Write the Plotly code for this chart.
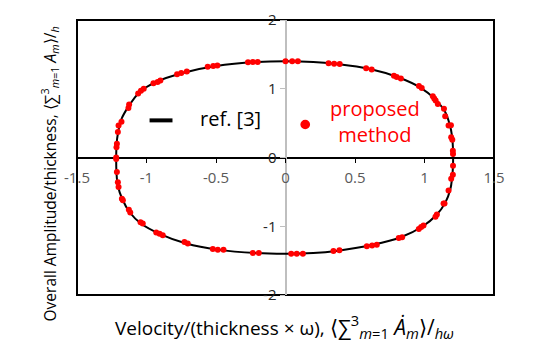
import plotly.graph_objects as go

# reference curve (ref. [3]), clockwise from the top
curve_x = [0, 0.20, 0.365, 0.60, 0.82, 0.976, 1.07, 1.144, 1.18, 1.199, 1.205, 1.206,
           1.205, 1.199, 1.185, 1.149, 1.084, 0.988, 0.83, 0.628, 0.365, 0.20, 0,
           -0.21, -0.487, -0.714, -0.906, -1.04, -1.12, -1.175, -1.206, -1.216, -1.218,
           -1.215, -1.206, -1.18, -1.13, -1.05, -0.93, -0.74, -0.50, -0.20, 0]
curve_y = [1.40, 1.39, 1.36, 1.29, 1.16, 1.01, 0.86, 0.68, 0.49, 0.30, 0.12, 0,
           -0.12, -0.29, -0.47, -0.66, -0.84, -1.00, -1.16, -1.27, -1.36, -1.39, -1.40,
           -1.39, -1.34, -1.25, -1.11, -0.96, -0.80, -0.60, -0.41, -0.22, 0,
           0.20, 0.345, 0.56, 0.74, 0.95, 1.10, 1.23, 1.33, 1.39, 1.40]

# proposed method points
pts_x = [0, 0.048, 0.089, 0.31, 0.35, 0.39, 0.58, 0.62, 0.78, 0.80, 0.83, 0.96, 0.98,
         1.06, 1.07, 1.08, 1.096, 1.14, 1.149, 1.173, 1.19, 1.192, 1.20, 1.204, 1.205,
         1.205, 1.204, 1.192, 1.173, 1.144,
         1.137, 1.089, 1.079, 0.993, 0.976, 0.959, 0.839, 0.815, 0.657, 0.623, 0.585,
         0.388, 0.345, 0.125, 0.081, 0.041,
         -0.192, -0.235, -0.446, -0.487, -0.523, -0.703, -0.727, -0.883, -0.906, -0.930,
         -1.027, -1.043, -1.117, -1.127, -1.170, -1.177, -1.201, -1.206, -1.213,
         -1.218, -1.218, -1.216, -1.213, -1.206, -1.201, -1.18, -1.13, -1.125,
         -1.06, -1.04, -1.02, -0.95, -0.92, -0.90, -0.78, -0.75, -0.71, -0.56, -0.52,
         -0.49, -0.27, -0.235, -0.20]
pts_y = [1.40, 1.40, 1.40, 1.37, 1.365, 1.36, 1.30, 1.28, 1.19, 1.17, 1.15, 1.04, 1.01,
         0.89, 0.86, 0.83, 0.78, 0.71, 0.60, 0.465, 0.47, 0.295, 0.26, 0.10, 0.05,
         -0.12, -0.25, -0.31, -0.48, -0.67,
         -0.67, -0.83, -0.86, -0.99, -1.01, -1.04, -1.16, -1.17, -1.27, -1.28, -1.29,
         -1.35, -1.36, -1.40, -1.40, -1.40,
         -1.39, -1.39, -1.34, -1.34, -1.33, -1.25, -1.23, -1.13, -1.11, -1.09,
         -0.96, -0.94, -0.80, -0.76, -0.62, -0.60, -0.43, -0.36, -0.21,
         -0.02, 0.0, 0.15, 0.20, 0.37, 0.465, 0.52, 0.72, 0.77,
         0.93, 0.97, 1.00, 1.08, 1.10, 1.12, 1.21, 1.23, 1.25, 1.32, 1.33,
         1.34, 1.385, 1.39, 1.39]

x_ticks = [-1.5, -1, -0.5, 0, 0.5, 1, 1.5]
x_ticktext = ["-1.5", "-1", "-0.5", "0", "0.5", "1", "1.5"]
y_ticks = [-2, -1, 0, 1, 2]
y_ticktext = ["-2", "-1", "0", "1", "2"]

FONT = "Open Sans"
RED = "#ff0000"

fig = go.Figure()

fig.add_trace(go.Scatter(
    x=curve_x, y=curve_y, mode="lines", line=dict(color="black", width=2, shape="spline"),
    name="ref. [3]", showlegend=False))

fig.add_trace(go.Scatter(
    x=pts_x, y=pts_y, mode="markers", marker=dict(color=RED, size=6),
    name="proposed method", showlegend=False))

# legend drawn by hand, as in the original
fig.add_shape(type="line", x0=-0.978, x1=-0.813, y0=0.54, y1=0.54,
              line=dict(color="black", width=4))
fig.add_shape(type="circle", x0=0.142 - 0.035, x1=0.142 + 0.035, y0=0.48 - 0.068, y1=0.48 + 0.068,
              fillcolor=RED, line=dict(color=RED, width=0))
fig.add_annotation(x=-0.633, y=0.567, text="ref. [3]", showarrow=False, xanchor="left",
                   font=dict(family=FONT, size=20, color="black"))
fig.add_annotation(x=0.645, y=0.53, text="proposed<br>method", showarrow=False, align="center",
                   font=dict(family=FONT, size=20, color=RED))

# outer frame
fig.add_shape(type="rect", xref="paper", yref="paper", x0=0, x1=1, y0=0, y1=1,
              line=dict(color="black", width=2), layer="below")

# axis titles
fig.add_annotation(
    xref="paper", yref="paper", x=0.0863, y=-0.116, xanchor="left", yanchor="middle", showarrow=False,
    text="Velocity/(thickness × ω), <span style='font-size:21px'>⟨∑<sup>3</sup><sub><i>m</i>=1</sub> "
         "<i>Ȧ<sub>m</sub></i>⟩/<sub><i>hω</i></sub></span>",
    font=dict(family=FONT, size=19, color="black"))
fig.add_annotation(
    xref="paper", yref="paper", x=-0.065, y=-0.102, xanchor="center", yanchor="bottom",
    showarrow=False, textangle=-90,
    text="Overall Amplitude/thickness, ⟨∑<sup>3</sup><sub><i>m</i>=1</sub> <i>A<sub>m</sub></i>⟩/<sub><i>h</i></sub>",
    font=dict(family=FONT, size=15.5, color="black"))

fig.update_xaxes(
    range=[-1.5, 1.5], anchor="free", position=0.5, showgrid=False, zeroline=False,
    showline=True, linecolor="black", linewidth=1.5, ticks="outside", ticklen=5,
    tickcolor="black", tickvals=x_ticks, ticktext=x_ticktext, layer="below traces",
    ticklabelstandoff=2, automargin=False, tickfont=dict(family=FONT, size=15, color="#595959"))
fig.update_yaxes(
    range=[-2, 2], anchor="free", position=0.5, showgrid=False, zeroline=False,
    showline=True, linecolor="#bfbfbf", linewidth=2, ticks="outside", ticklen=5,
    tickcolor="#bfbfbf", tickvals=y_ticks, ticktext=y_ticktext, layer="below traces",
    automargin=False, tickfont=dict(family=FONT, size=15, color="#262626"))

# page body keeps its default 8px margin, so the figure is sized to fit inside it
fig.update_layout(
    width=522, height=339,
    margin=dict(l=69, r=36, t=12, b=52, autoexpand=False),
    plot_bgcolor="white", paper_bgcolor="white",
    showlegend=False,
)

fig.write_html("out.html")
